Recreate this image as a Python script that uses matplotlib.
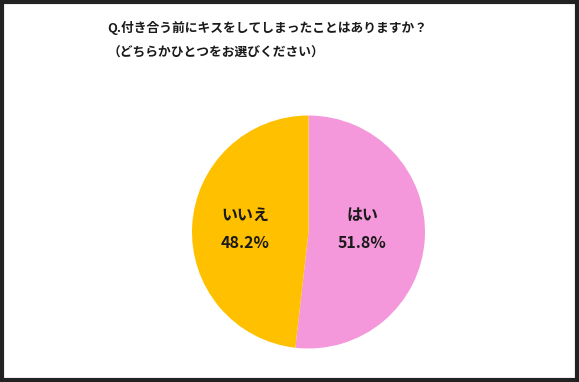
import matplotlib.pyplot as plt
from matplotlib.patches import Rectangle

plt.rcParams['font.family'] = ['Noto Sans CJK JP', 'DejaVu Sans']

labels = ["はい", "いいえ"]
values = [51.8, 48.2]
colors = ["#F598DB", "#FFC000"]

title1 = "Q.付き合う前にキスをしてしまったことはありますか？"
title2 = "（どちらかひとつをお選びください）"

W, H = 579, 382
fig = plt.figure(figsize=(W / 100, H / 100), dpi=100)

# pie axes: center (308.5, 232), radius ~116.5 px
r = 116.5
cx, cy = 308.5, 232
ax = fig.add_axes([(cx - r) / W, 1 - (cy + r) / H, 2 * r / W, 2 * r / H])
wedges, _ = ax.pie(values, colors=colors, startangle=90, counterclock=False,
                   radius=1.0, wedgeprops=dict(linewidth=0))
ax.set_xlim(-1, 1)
ax.set_ylim(-1, 1)
ax.set_aspect("auto")
ax.axis("off")

# labels inside slices
label_pos = [(362, 215, 243), (245, 215, 243)]
for (lx, ly1, ly2), lab, v in zip(label_pos, labels, values):
    fig.text(lx / W, 1 - ly1 / H, lab, ha="center", va="center",
             fontsize=11.5, fontweight="bold", color="#1a1a1a")
    fig.text(lx / W, 1 - ly2 / H, f"{v:.1f}%", ha="center", va="center",
             fontsize=11.5, fontweight="bold", color="#1a1a1a")

fig.text(107 / W, 1 - 28 / H, title1, ha="left", va="center",
         fontsize=9.2, fontweight="bold", color="#1a1a1a")
fig.text(108 / W, 1 - 53 / H, title2, ha="left", va="center",
         fontsize=9.2, fontweight="bold", color="#1a1a1a")

fig.patches.append(Rectangle((0.003, 0.004), 0.994, 0.992, transform=fig.transFigure,
                             fill=False, edgecolor="#222222", linewidth=3))

fig.savefig("out.png", dpi=100)
